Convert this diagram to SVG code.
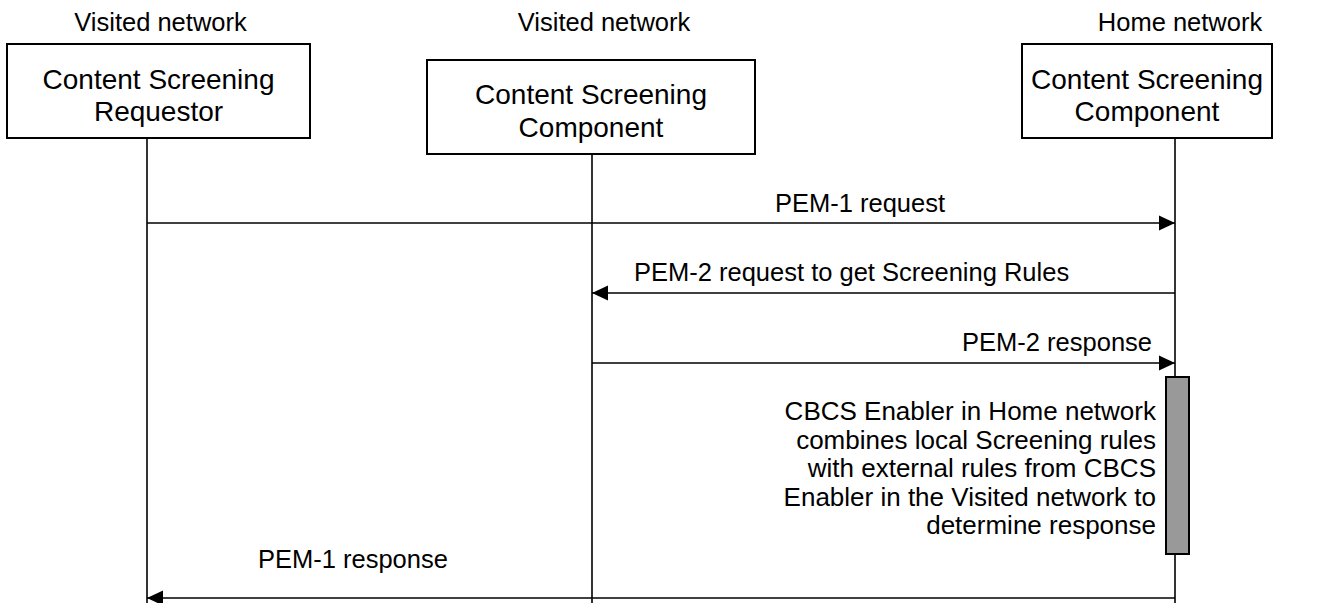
<svg xmlns="http://www.w3.org/2000/svg" width="1332" height="603" viewBox="0 0 1332 603">
<style>
text{font-family:"Liberation Sans",Arial,sans-serif;fill:#000}
.lbl{font-size:25.5px}
.note{font-size:26px;text-anchor:end}
.box{fill:#fff;stroke:#000;stroke-width:2}
.bt{font-size:28px;text-anchor:middle}
.life{stroke:#000;stroke-width:1.6;fill:none}
.msg{stroke:#000;stroke-width:1.6;fill:none}
.act{fill:#999;stroke:#000;stroke-width:2}
</style>
<defs>
<marker id="ah" markerUnits="userSpaceOnUse" markerWidth="16" markerHeight="16" viewBox="0 0 16 16" refX="16" refY="8" orient="auto">
<path d="M0,0.5 L16,8 L0,15.5 Z" fill="#000"/>
</marker>
</defs>
<rect width="1332" height="603" fill="#fff"/>
<g id="lifelines">
<line class="life" x1="147" y1="138" x2="147" y2="603"/>
<line class="life" x1="592" y1="120" x2="592" y2="603"/>
<line class="life" x1="1175" y1="138" x2="1175" y2="603"/>
</g>
<g id="requestor">
<text class="lbl" x="160.5" y="31" text-anchor="middle">Visited network</text>
<rect class="box" x="7" y="44" width="303" height="94"/>
<text class="bt" x="158.5" y="89">Content Screening</text>
<text class="bt" x="158.5" y="121">Requestor</text>
</g>
<g id="visited-component">
<text class="lbl" x="604" y="31" text-anchor="middle">Visited network</text>
<rect class="box" x="427" y="60" width="328" height="94"/>
<text class="bt" x="591" y="104">Content Screening</text>
<text class="bt" x="591" y="137">Component</text>
</g>
<g id="home-component">
<text class="lbl" x="1180" y="31" text-anchor="middle">Home network</text>
<rect class="box" x="1022" y="44" width="250" height="94"/>
<text class="bt" x="1147" y="89">Content Screening</text>
<text class="bt" x="1147" y="121">Component</text>
</g>
<g id="connectors">
<line class="msg" x1="147" y1="223" x2="1175" y2="223" marker-end="url(#ah)"/>
<text class="lbl" x="860" y="212" text-anchor="middle">PEM-1 request</text>
<line class="msg" x1="1175" y1="293" x2="592" y2="293" marker-end="url(#ah)"/>
<text class="lbl" x="634" y="281">PEM-2 request to get Screening Rules</text>
<line class="msg" x1="592" y1="363" x2="1175" y2="363" marker-end="url(#ah)"/>
<text class="lbl" x="1152" y="351" text-anchor="end">PEM-2 response</text>
<line class="msg" x1="1175" y1="598" x2="147" y2="598" marker-end="url(#ah)"/>
<text class="lbl" x="258" y="568">PEM-1 response</text>
</g>
<g id="activation">
<rect class="act" x="1166" y="377" width="23" height="177"/>
<text class="note" x="1156" y="420">CBCS Enabler in Home network</text>
<text class="note" x="1156" y="449">combines local Screening rules</text>
<text class="note" x="1156" y="477">with external rules from CBCS</text>
<text class="note" x="1156" y="506">Enabler in the Visited network to</text>
<text class="note" x="1156" y="534">determine response</text>
</g>
</svg>
